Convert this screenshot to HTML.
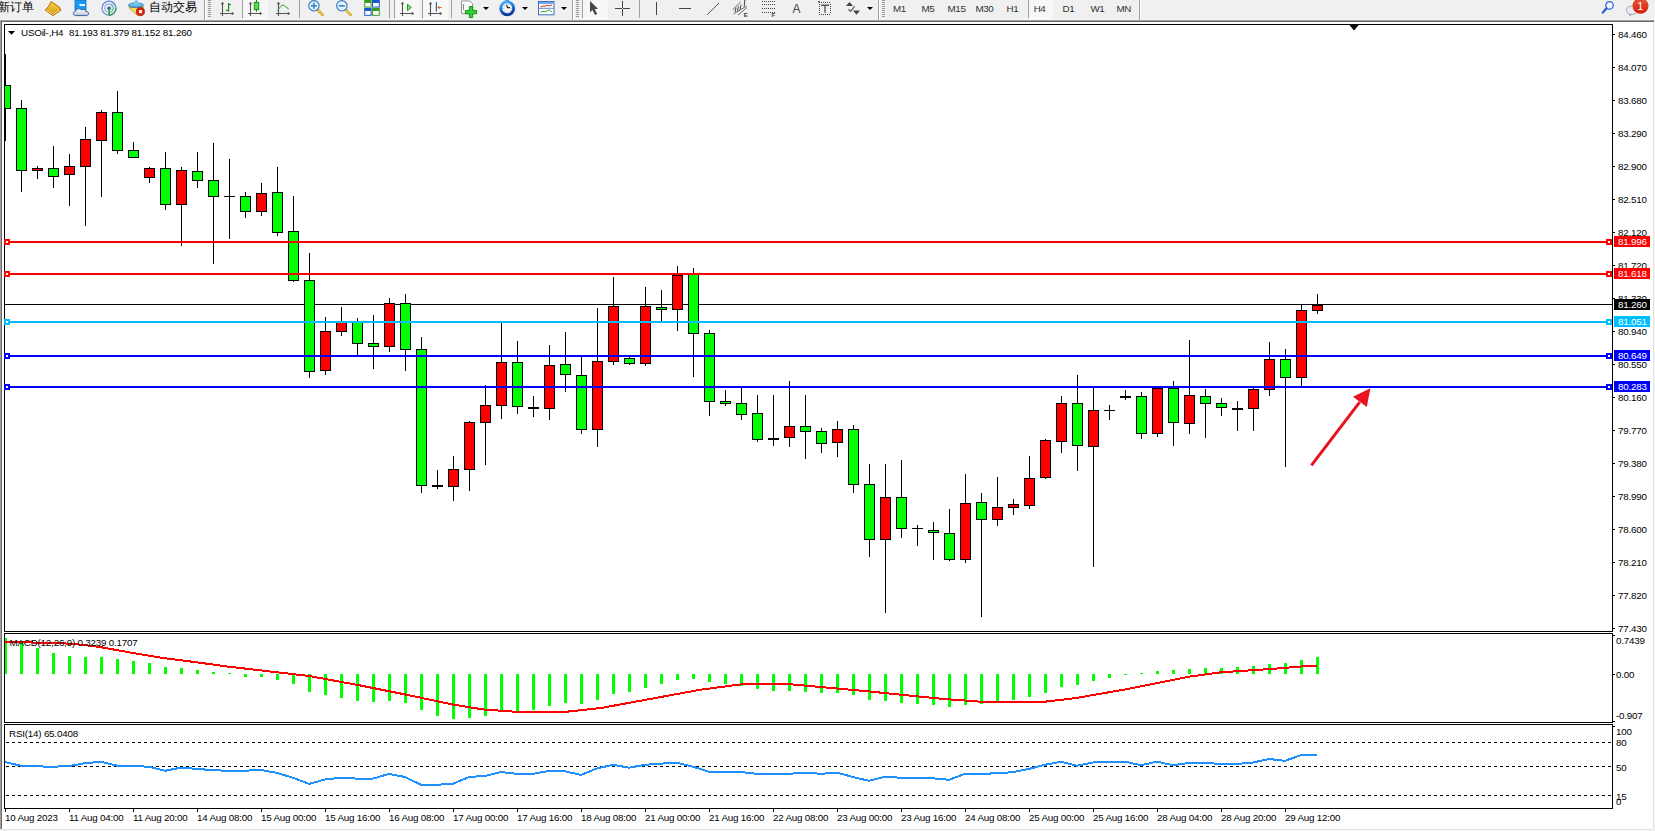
<!DOCTYPE html>
<html><head><meta charset="utf-8"><title>MT4 USOil H4</title>
<style>
html,body{margin:0;padding:0;background:#f0f0f0;overflow:hidden;}
svg{display:block;position:absolute;left:0;top:0;}
text{font-family:'Liberation Sans', Arial, sans-serif;white-space:pre;letter-spacing:-0.2px;}
</style></head><body>
<svg width="1655" height="831" viewBox="0 0 1655 831" shape-rendering="crispEdges">
<rect x="0" y="0" width="1655" height="20" fill="#f0f0f0"/>
<rect x="0" y="19" width="1655" height="1" fill="#f5f5f5"/>
<text x="-2.4" y="10.6" font-family="'Liberation Sans', 'Noto Sans CJK SC', 'WenQuanYi Zen Hei', sans-serif" font-size="11.6" fill="#000" style="letter-spacing:0">新订单</text>
<text x="149.3" y="10.6" font-family="'Liberation Sans', 'Noto Sans CJK SC', 'WenQuanYi Zen Hei', sans-serif" font-size="11.6" fill="#000" style="letter-spacing:0">自动交易</text>
<rect x="204" y="0" width="1" height="20" fill="#a0a0a0"/>
<rect x="205" y="0" width="1" height="20" fill="#ffffff"/>
<rect x="208" y="0" width="3" height="1" fill="#9a9a9a"/>
<rect x="208" y="2" width="3" height="1" fill="#9a9a9a"/>
<rect x="208" y="4" width="3" height="1" fill="#9a9a9a"/>
<rect x="208" y="6" width="3" height="1" fill="#9a9a9a"/>
<rect x="208" y="8" width="3" height="1" fill="#9a9a9a"/>
<rect x="208" y="10" width="3" height="1" fill="#9a9a9a"/>
<rect x="208" y="12" width="3" height="1" fill="#9a9a9a"/>
<rect x="208" y="14" width="3" height="1" fill="#9a9a9a"/>
<rect x="208" y="16" width="3" height="1" fill="#9a9a9a"/>
<rect x="242" y="0" width="1" height="18" fill="#a0a0a0"/>
<rect x="243" y="0" width="25" height="18" fill="#f7f7f7"/>
<rect x="243" y="18" width="25" height="1" fill="#ffffff"/>
<rect x="299" y="0" width="1" height="18" fill="#a0a0a0"/>
<rect x="389" y="0" width="1" height="18" fill="#a0a0a0"/>
<rect x="394" y="0" width="1" height="18" fill="#a0a0a0"/>
<rect x="395" y="0" width="25" height="18" fill="#f7f7f7"/>
<rect x="395" y="18" width="25" height="1" fill="#ffffff"/>
<rect x="422" y="0" width="1" height="18" fill="#a0a0a0"/>
<rect x="423" y="0" width="25" height="18" fill="#f7f7f7"/>
<rect x="423" y="18" width="25" height="1" fill="#ffffff"/>
<rect x="451" y="0" width="1" height="18" fill="#a0a0a0"/>
<polygon points="483,7 489,7 486,10" fill="#000" shape-rendering="auto"/>
<polygon points="522,7 528,7 525,10" fill="#000" shape-rendering="auto"/>
<polygon points="561,7 567,7 564,10" fill="#000" shape-rendering="auto"/>
<rect x="572" y="0" width="1" height="20" fill="#a0a0a0"/>
<rect x="573" y="0" width="1" height="20" fill="#ffffff"/>
<rect x="576" y="0" width="3" height="1" fill="#9a9a9a"/>
<rect x="576" y="2" width="3" height="1" fill="#9a9a9a"/>
<rect x="576" y="4" width="3" height="1" fill="#9a9a9a"/>
<rect x="576" y="6" width="3" height="1" fill="#9a9a9a"/>
<rect x="576" y="8" width="3" height="1" fill="#9a9a9a"/>
<rect x="576" y="10" width="3" height="1" fill="#9a9a9a"/>
<rect x="576" y="12" width="3" height="1" fill="#9a9a9a"/>
<rect x="576" y="14" width="3" height="1" fill="#9a9a9a"/>
<rect x="576" y="16" width="3" height="1" fill="#9a9a9a"/>
<rect x="582" y="0" width="1" height="18" fill="#a0a0a0"/>
<rect x="583" y="0" width="25" height="18" fill="#f7f7f7"/>
<rect x="583" y="18" width="25" height="1" fill="#ffffff"/>
<rect x="639" y="0" width="1" height="18" fill="#a0a0a0"/>
<polygon points="867,7 873,7 870,10" fill="#000" shape-rendering="auto"/>
<rect x="878" y="0" width="1" height="20" fill="#a0a0a0"/>
<rect x="879" y="0" width="1" height="20" fill="#ffffff"/>
<rect x="882" y="0" width="3" height="1" fill="#9a9a9a"/>
<rect x="882" y="2" width="3" height="1" fill="#9a9a9a"/>
<rect x="882" y="4" width="3" height="1" fill="#9a9a9a"/>
<rect x="882" y="6" width="3" height="1" fill="#9a9a9a"/>
<rect x="882" y="8" width="3" height="1" fill="#9a9a9a"/>
<rect x="882" y="10" width="3" height="1" fill="#9a9a9a"/>
<rect x="882" y="12" width="3" height="1" fill="#9a9a9a"/>
<rect x="882" y="14" width="3" height="1" fill="#9a9a9a"/>
<rect x="882" y="16" width="3" height="1" fill="#9a9a9a"/>
<rect x="1029" y="0" width="24" height="18" fill="#f7f7f7"/>
<rect x="1029" y="18" width="24" height="1" fill="#ffffff"/>
<rect x="1028" y="0" width="1" height="18" fill="#a0a0a0"/>
<rect x="1139" y="0" width="1" height="20" fill="#a0a0a0"/>
<rect x="1140" y="0" width="1" height="20" fill="#ffffff"/>
<text x="893" y="12" font-family="'Liberation Sans', Arial, sans-serif" font-size="9.8" fill="#333" style="letter-spacing:-0.4px">M1</text>
<text x="921.5" y="12" font-family="'Liberation Sans', Arial, sans-serif" font-size="9.8" fill="#333" style="letter-spacing:-0.4px">M5</text>
<text x="947.6" y="12" font-family="'Liberation Sans', Arial, sans-serif" font-size="9.8" fill="#333" style="letter-spacing:-0.4px">M15</text>
<text x="975.5" y="12" font-family="'Liberation Sans', Arial, sans-serif" font-size="9.8" fill="#333" style="letter-spacing:-0.4px">M30</text>
<text x="1006.6" y="12" font-family="'Liberation Sans', Arial, sans-serif" font-size="9.8" fill="#333" style="letter-spacing:-0.4px">H1</text>
<text x="1033.7" y="12" font-family="'Liberation Sans', Arial, sans-serif" font-size="9.8" fill="#333" style="letter-spacing:-0.4px">H4</text>
<text x="1062.5" y="12" font-family="'Liberation Sans', Arial, sans-serif" font-size="9.8" fill="#333" style="letter-spacing:-0.4px">D1</text>
<text x="1090.4" y="12" font-family="'Liberation Sans', Arial, sans-serif" font-size="9.8" fill="#333" style="letter-spacing:-0.4px">W1</text>
<text x="1116.4" y="12" font-family="'Liberation Sans', Arial, sans-serif" font-size="9.8" fill="#333" style="letter-spacing:-0.4px">MN</text>

<g shape-rendering="auto">
<defs>
<linearGradient id="gold" x1="0" y1="0" x2="0" y2="1"><stop offset="0" stop-color="#f8d440"/><stop offset="1" stop-color="#d49a18"/></linearGradient>
<linearGradient id="cloud" x1="0" y1="0" x2="0" y2="1"><stop offset="0" stop-color="#ffffff"/><stop offset="1" stop-color="#b8c4d8"/></linearGradient>
<linearGradient id="bdg" x1="0" y1="0" x2="0" y2="1"><stop offset="0" stop-color="#e85a3a"/><stop offset="1" stop-color="#d41e0a"/></linearGradient>
<linearGradient id="clk" x1="0" y1="0" x2="0.3" y2="1"><stop offset="0" stop-color="#5ab8ff"/><stop offset="0.5" stop-color="#1a78e0"/><stop offset="1" stop-color="#0a3a98"/></linearGradient>
<linearGradient id="hat" x1="0" y1="0" x2="0" y2="1"><stop offset="0" stop-color="#9ad4f0"/><stop offset="1" stop-color="#3aa0d8"/></linearGradient>
<pattern id="chk" width="2" height="2" patternUnits="userSpaceOnUse"><rect width="2" height="2" fill="#f4f4f4"/><rect width="1" height="1" fill="#fafafa"/><rect x="1" y="1" width="1" height="1" fill="#fafafa"/></pattern>
</defs>
<!-- gold book -->
<path d="M51.3,1.5 L59.5,7.2 L60.8,10.3 L52.8,15.6 L45.2,10 L48.5,6.5 Z" fill="url(#gold)" stroke="#a8680c" stroke-width="1"/>
<path d="M46.5,10.3 L52.8,14.3 L59.8,9.8" fill="none" stroke="#f6e6a0" stroke-width="0.8"/>
<!-- blue server + cloud -->
<rect x="75" y="0" width="11" height="10" fill="#1a9af0" stroke="#0a70d0" stroke-width="0.8"/>
<rect x="79.5" y="4" width="5.5" height="2" fill="#e8f6ff"/>
<path d="M75.5,15.6 C72.5,15.6 72.5,11.5 75.5,11.5 C76,8.3 80.5,8 81.5,10 C83,8.5 86,9.5 85.5,11.3 C89.5,11 89.5,15.6 86.5,15.6 Z" fill="url(#cloud)" stroke="#3f5f9c" stroke-width="1"/>
<!-- signal -->
<path d="M109,8.2 L109,15.6 A7.4,7.4 0 0 0 116.4,8.2 A7.4,7.4 0 0 0 112,1.4 Z" fill="#cfe8c8"/>
<circle cx="109" cy="8.2" r="7" fill="none" stroke="#5a84dc" stroke-width="1.2"/>
<circle cx="109" cy="8.2" r="4.2" fill="none" stroke="#7a9ee4" stroke-width="1.1"/>
<path d="M109,15.2 A7,7 0 0 0 116,8.2" fill="none" stroke="#3a9a48" stroke-width="1.2"/>
<circle cx="109" cy="8.2" r="1.7" fill="#2858c8"/>
<path d="M109.2,8.5 L109.2,15.6" stroke="#20a030" stroke-width="1.4"/>
<!-- auto trading wizard hat -->
<path d="M128.8,7.6 L137.6,15.6 L143.6,7.2 Z" fill="#f8e060" stroke="#c89a18" stroke-width="0.9"/>
<ellipse cx="136" cy="5.2" rx="7.6" ry="2.4" fill="url(#hat)" stroke="#2a7ab0" stroke-width="0.8"/>
<path d="M133.3,4.6 C134,1.5 135,0 136.3,0 C137.6,0 138.5,1.5 139.2,4.6 Z" fill="#7cc4ec"/>
<circle cx="140.4" cy="11.6" r="4.1" fill="#d42a10" stroke="#b01a0a" stroke-width="0.8"/>
<rect x="139" y="10.2" width="2.9" height="2.9" fill="#ffffff"/>
<!-- bar chart icon -->
<g stroke="#555" stroke-width="1.1" fill="none">
 <path d="M222.5,2.5 V16 M220,13.5 H233.5"/>
</g>
<path d="M222.5,1.8 L220.8,4.2 H224.2 Z M234.2,13.5 L231.8,11.8 V15.2 Z" fill="#555"/>
<path d="M228.6,3 V11.6 M228.6,4.5 H231 M226,10.3 H228.6" stroke="#108a10" stroke-width="1.2" fill="none"/>
<!-- candle chart icon -->
<path d="M250.5,2.5 V16 M248,13.5 H261.5" stroke="#555" stroke-width="1.1" fill="none"/>
<path d="M250.5,1.8 L248.8,4.2 H252.2 Z M262.2,13.5 L259.8,11.8 V15.2 Z" fill="#555"/>
<path d="M256.5,0 V11.8" stroke="#109010" stroke-width="1.2"/>
<rect x="254.3" y="2.4" width="4.4" height="7.2" fill="#50e050" stroke="#109010" stroke-width="0.9"/>
<!-- line chart icon -->
<path d="M278.5,2.5 V16 M276,13.5 H289.5" stroke="#555" stroke-width="1.1" fill="none"/>
<path d="M278.5,1.8 L276.8,4.2 H280.2 Z M290.2,13.5 L287.8,11.8 V15.2 Z" fill="#555"/>
<path d="M277.3,10.6 C280,7.5 281.5,5 283,5 C284.8,5 286.5,8.3 288.8,9" stroke="#2a9a2a" stroke-width="1" fill="none"/>
<!-- zoom in / out -->
<path d="M317.5,9.5 L322.6,14.8" stroke="#c89010" stroke-width="2.6" stroke-linecap="round"/>
<path d="M317.5,9.5 L322.6,14.8" stroke="#f0d860" stroke-width="1.2" stroke-linecap="round"/>
<circle cx="313.9" cy="5.8" r="5.2" fill="#dff2ff" stroke="#2f76c4" stroke-width="1.1"/>
<path d="M313.9,2.8 V8.8 M310.9,5.8 H316.9" stroke="#3a82b4" stroke-width="1.6"/>
<path d="M345.5,9.5 L350.6,14.8" stroke="#c89010" stroke-width="2.6" stroke-linecap="round"/>
<path d="M345.5,9.5 L350.6,14.8" stroke="#f0d860" stroke-width="1.2" stroke-linecap="round"/>
<circle cx="341.9" cy="5.8" r="5.2" fill="#dff2ff" stroke="#2f76c4" stroke-width="1.1"/>
<path d="M338.9,5.8 H344.9" stroke="#3a82b4" stroke-width="1.6"/>
<!-- tile windows -->
<rect x="364.2" y="0" width="7.4" height="7.6" fill="#3a9a20"/><rect x="365.2" y="3" width="5.4" height="3.6" fill="#fff"/>
<rect x="372" y="0" width="7.8" height="7.6" fill="#1a58d0"/><rect x="373" y="3" width="5.8" height="3.6" fill="#fff"/>
<rect x="364.2" y="8" width="7.4" height="7.8" fill="#1a58d0"/><rect x="365.2" y="11" width="5.4" height="3.8" fill="#fff"/>
<rect x="372" y="8" width="7.8" height="7.8" fill="#3a9a20"/><rect x="373" y="11" width="5.8" height="3.8" fill="#fff"/>
<!-- autoscroll -->
<path d="M402.5,2.5 V16 M400,13.5 H413.5" stroke="#555" stroke-width="1.1" fill="none"/>
<path d="M402.5,1.8 L400.8,4.2 H404.2 Z M414.2,13.5 L411.8,11.8 V15.2 Z" fill="#555"/>
<path d="M407.5,4.3 L411.3,7.4 L407.5,10.6 Z" fill="#80e080" stroke="#18a018" stroke-width="1"/>
<!-- chart shift -->
<path d="M430.5,2.5 V16 M428,13.5 H441.5" stroke="#555" stroke-width="1.1" fill="none"/>
<path d="M430.5,1.8 L428.8,4.2 H432.2 Z M442.2,13.5 L439.8,11.8 V15.2 Z" fill="#555"/>
<path d="M436.4,2 V11.6" stroke="#1a70b0" stroke-width="1.2"/>
<path d="M437.2,7.4 L440,5.4 L439.2,7 H442 V7.8 H439.2 L440,9.4 Z" fill="#e05010"/>
<!-- new chart -->
<path d="M461.5,1 H469.8 L472.6,3.8 V13.6 H461.5 Z" fill="#fff" stroke="#888" stroke-width="0.9"/>
<path d="M464.2,4 C463.3,4 463.3,5 463.3,7 C463.3,9 463.3,10 464.2,10" stroke="#444" stroke-width="0.8" fill="none"/>
<path d="M469.3,6.5 H472.7 V10.4 H476.6 V13.8 H472.7 V17.6 H469.3 V13.8 H465.4 V10.4 H469.3 Z" fill="#30d030" stroke="#128a12" stroke-width="0.9"/>
<!-- clock -->
<rect x="505.5" y="0" width="3.5" height="1.6" fill="#1a5fb8"/>
<circle cx="507.2" cy="8.3" r="6.5" fill="#f6f8fb" stroke="url(#clk)" stroke-width="2.9"/>
<path d="M506.6,4.6 L507.4,7.6 L510,7.6" stroke="#222" stroke-width="1.1" fill="none"/>
<g fill="#777"><rect x="503.4" y="8.2" width="0.8" height="0.8"/><rect x="510.6" y="8.2" width="0.8" height="0.8"/><rect x="507" y="11.6" width="1" height="0.6" fill="#5a9ae8"/><rect x="504.5" y="5.4" width="0.7" height="0.7"/><rect x="504.6" y="10.6" width="0.7" height="0.7"/><rect x="509.8" y="10.4" width="0.7" height="0.7"/></g>
<!-- templates -->
<rect x="538.5" y="1.5" width="15.5" height="13.3" fill="#fff" stroke="#3a6ec4" stroke-width="1"/>
<rect x="539" y="2" width="14.5" height="2" fill="#7aa8e8"/>
<path d="M539,8.3 H553.5" stroke="#3a6ec4" stroke-width="0.8"/>
<path d="M540.5,6.8 L543,6 L545,6.3 L547,5.2 L549.5,5.8 L552,5" stroke="#b02a10" stroke-width="0.9" fill="none"/>
<path d="M540.5,12 L543,11.4 L545,11.8 L547.5,10.6 L549.5,10 L552,12" stroke="#20a020" stroke-width="0.9" fill="none"/>
<!-- cursor -->
<path d="M590,1 V12.2 L592.4,10 L595,15 L597.2,14 L594.7,9.2 L598,8.7 Z" fill="#474747"/>
<!-- crosshair -->
<path d="M622.5,1 V8 M622.5,9 V16 M615,8.5 H622 M623,8.5 H630" stroke="#444" stroke-width="1"/>
<!-- line tools -->
<path d="M656.5,2 V15" stroke="#444" stroke-width="1"/>
<path d="M679,8.5 H691" stroke="#444" stroke-width="1"/>
<path d="M707.3,14.6 L719,3" stroke="#444" stroke-width="0.9"/>
<!-- fibo channel -->
<path d="M732.8,9.5 L740.6,2.2 M733.6,14 L746.5,6 M738,15 L747,7.5" stroke="#444" stroke-width="0.8" fill="none"/>
<path d="M735,12 L736,7.8 M737.5,11 L738.5,6.3 M740,9.5 L741,4.8 M744.2,6.6 L744.8,0" stroke="#444" stroke-width="1" fill="none"/>
<text x="743.8" y="17" font-size="6.2" font-weight="bold" fill="#444" font-family="Liberation Sans, sans-serif">E</text>
<!-- fibo lines -->
<g fill="#444">
<rect x="762" y="1" width="1" height="1"/><rect x="764" y="1" width="1" height="1"/><rect x="766" y="1" width="1" height="1"/><rect x="768" y="1" width="1" height="1"/><rect x="770" y="1" width="1" height="1"/><rect x="772" y="1" width="1" height="1"/><rect x="774" y="1" width="1" height="1"/><rect x="762" y="4" width="1" height="1"/><rect x="764" y="4" width="1" height="1"/><rect x="766" y="4" width="1" height="1"/><rect x="768" y="4" width="1" height="1"/><rect x="770" y="4" width="1" height="1"/><rect x="772" y="4" width="1" height="1"/><rect x="774" y="4" width="1" height="1"/><rect x="762" y="8" width="1" height="1"/><rect x="764" y="8" width="1" height="1"/><rect x="766" y="8" width="1" height="1"/><rect x="768" y="8" width="1" height="1"/><rect x="770" y="8" width="1" height="1"/><rect x="772" y="8" width="1" height="1"/><rect x="774" y="8" width="1" height="1"/><rect x="762" y="12" width="1" height="1"/><rect x="764" y="12" width="1" height="1"/><rect x="766" y="12" width="1" height="1"/><rect x="768" y="12" width="1" height="1"/><rect x="770" y="12" width="1" height="1"/><rect x="772" y="12" width="1" height="1"/><rect x="774" y="12" width="1" height="1"/>
</g>
<text x="771.5" y="17" font-size="6.2" font-weight="bold" fill="#444" font-family="Liberation Sans, sans-serif">F</text>
<!-- A -->
<text x="792.6" y="13" font-size="12" fill="#444" font-family="Liberation Sans, sans-serif">A</text>
<!-- T label -->
<g fill="#444">
<rect x="819" y="2" width="1" height="1"/><rect x="819" y="14" width="1" height="1"/><rect x="821" y="2" width="1" height="1"/><rect x="821" y="14" width="1" height="1"/><rect x="823" y="2" width="1" height="1"/><rect x="823" y="14" width="1" height="1"/><rect x="825" y="2" width="1" height="1"/><rect x="825" y="14" width="1" height="1"/><rect x="827" y="2" width="1" height="1"/><rect x="827" y="14" width="1" height="1"/><rect x="829" y="2" width="1" height="1"/><rect x="829" y="14" width="1" height="1"/><rect x="819" y="4" width="1" height="1"/><rect x="830" y="4" width="1" height="1"/><rect x="819" y="6" width="1" height="1"/><rect x="830" y="6" width="1" height="1"/><rect x="819" y="8" width="1" height="1"/><rect x="830" y="8" width="1" height="1"/><rect x="819" y="10" width="1" height="1"/><rect x="830" y="10" width="1" height="1"/><rect x="819" y="12" width="1" height="1"/><rect x="830" y="12" width="1" height="1"/>
</g>
<rect x="818" y="1" width="1.6" height="1.4" fill="#444"/>
<path d="M821,5.3 H829 M825,5.3 V12.8" stroke="#555" stroke-width="1.4"/>
<!-- arrows -->
<path d="M846,6 L849.5,2 L853,6 Z" fill="#444"/>
<path d="M853,10.6 L856.5,14.8 L860,10.6 Z" fill="#444"/>
<path d="M848.5,9.2 L850.5,11.5 L854.6,6.3" stroke="#444" stroke-width="1.1" fill="none"/>
<!-- search -->
<circle cx="1609.5" cy="5.4" r="3.7" fill="#f4f6ff" stroke="#2262d4" stroke-width="1.2"/>
<path d="M1606.6,8.3 L1602.8,12.6" stroke="#2262d4" stroke-width="2.2" stroke-linecap="round"/>
<!-- chat + badge -->
<ellipse cx="1632" cy="10.2" rx="5.6" ry="4.3" fill="#e8eaf2" stroke="#a0a0a8" stroke-width="0.9"/>
<path d="M1629,14 L1629.5,16.6 L1632,14.4 Z" fill="#a0a0a8"/>
<circle cx="1640.5" cy="5.8" r="8" fill="url(#bdg)"/>
<text x="1640.3" y="10" font-size="11" fill="#fff" text-anchor="middle" font-family="Liberation Serif, serif">1</text>
</g>

<rect x="0" y="20" width="1655" height="811" fill="#ffffff"/>
<rect x="0" y="20" width="1655" height="1" fill="#a0a0a0"/>
<rect x="0" y="21" width="1655" height="1" fill="#696969"/>
<rect x="0" y="20" width="1" height="811" fill="#a0a0a0"/>
<rect x="1" y="21" width="1" height="810" fill="#696969"/>
<rect x="1653" y="22" width="1" height="809" fill="#e3e3e3"/>
<rect x="1654" y="20" width="1" height="811" fill="#f4f4f4"/>
<rect x="2" y="829" width="1652" height="1" fill="#e3e3e3"/>
<rect x="0" y="830" width="1655" height="1" fill="#f4f4f4"/>
<rect x="0" y="829" width="2" height="2" fill="#f0f0f0"/>
<defs><clipPath id="cm"><rect x="5" y="25" width="1607" height="606"/></clipPath><clipPath id="cd"><rect x="5" y="634" width="1607" height="88"/></clipPath><clipPath id="cr"><rect x="5" y="725" width="1607" height="83"/></clipPath></defs>
<g clip-path="url(#cm)">
<rect x="5" y="304" width="1607" height="1" fill="#000"/>
<rect x="5" y="54" width="1" height="87" fill="#000"/>
<rect x="0" y="85" width="11" height="24" fill="#000"/>
<rect x="1" y="86" width="9" height="22" fill="#00ff00"/>
<rect x="21" y="100" width="1" height="92" fill="#000"/>
<rect x="16" y="108" width="11" height="63" fill="#000"/>
<rect x="17" y="109" width="9" height="61" fill="#00ff00"/>
<rect x="37" y="166" width="1" height="13" fill="#000"/>
<rect x="32" y="168" width="11" height="3" fill="#000"/>
<rect x="33" y="169" width="9" height="1" fill="#ff0000"/>
<rect x="53" y="146" width="1" height="42" fill="#000"/>
<rect x="48" y="168" width="11" height="9" fill="#000"/>
<rect x="49" y="169" width="9" height="7" fill="#00ff00"/>
<rect x="69" y="154" width="1" height="52" fill="#000"/>
<rect x="64" y="166" width="11" height="9" fill="#000"/>
<rect x="65" y="167" width="9" height="7" fill="#ff0000"/>
<rect x="85" y="127" width="1" height="99" fill="#000"/>
<rect x="80" y="139" width="11" height="28" fill="#000"/>
<rect x="81" y="140" width="9" height="26" fill="#ff0000"/>
<rect x="101" y="110" width="1" height="87" fill="#000"/>
<rect x="96" y="112" width="11" height="29" fill="#000"/>
<rect x="97" y="113" width="9" height="27" fill="#ff0000"/>
<rect x="117" y="91" width="1" height="63" fill="#000"/>
<rect x="112" y="112" width="11" height="39" fill="#000"/>
<rect x="113" y="113" width="9" height="37" fill="#00ff00"/>
<rect x="133" y="142" width="1" height="16" fill="#000"/>
<rect x="128" y="150" width="11" height="8" fill="#000"/>
<rect x="129" y="151" width="9" height="6" fill="#00ff00"/>
<rect x="149" y="167" width="1" height="16" fill="#000"/>
<rect x="144" y="168" width="11" height="10" fill="#000"/>
<rect x="145" y="169" width="9" height="8" fill="#ff0000"/>
<rect x="165" y="152" width="1" height="58" fill="#000"/>
<rect x="160" y="168" width="11" height="37" fill="#000"/>
<rect x="161" y="169" width="9" height="35" fill="#00ff00"/>
<rect x="181" y="167" width="1" height="79" fill="#000"/>
<rect x="176" y="170" width="11" height="35" fill="#000"/>
<rect x="177" y="171" width="9" height="33" fill="#ff0000"/>
<rect x="197" y="152" width="1" height="36" fill="#000"/>
<rect x="192" y="171" width="11" height="10" fill="#000"/>
<rect x="193" y="172" width="9" height="8" fill="#00ff00"/>
<rect x="213" y="143" width="1" height="121" fill="#000"/>
<rect x="208" y="180" width="11" height="17" fill="#000"/>
<rect x="209" y="181" width="9" height="15" fill="#00ff00"/>
<rect x="229" y="159" width="1" height="80" fill="#000"/>
<rect x="224" y="196" width="11" height="1" fill="#000"/>
<rect x="245" y="192" width="1" height="26" fill="#000"/>
<rect x="240" y="196" width="11" height="16" fill="#000"/>
<rect x="241" y="197" width="9" height="14" fill="#00ff00"/>
<rect x="261" y="183" width="1" height="33" fill="#000"/>
<rect x="256" y="193" width="11" height="19" fill="#000"/>
<rect x="257" y="194" width="9" height="17" fill="#ff0000"/>
<rect x="277" y="167" width="1" height="69" fill="#000"/>
<rect x="272" y="192" width="11" height="41" fill="#000"/>
<rect x="273" y="193" width="9" height="39" fill="#00ff00"/>
<rect x="293" y="196" width="1" height="86" fill="#000"/>
<rect x="288" y="231" width="11" height="50" fill="#000"/>
<rect x="289" y="232" width="9" height="48" fill="#00ff00"/>
<rect x="309" y="253" width="1" height="125" fill="#000"/>
<rect x="304" y="280" width="11" height="92" fill="#000"/>
<rect x="305" y="281" width="9" height="90" fill="#00ff00"/>
<rect x="325" y="317" width="1" height="58" fill="#000"/>
<rect x="320" y="331" width="11" height="40" fill="#000"/>
<rect x="321" y="332" width="9" height="38" fill="#ff0000"/>
<rect x="341" y="307" width="1" height="29" fill="#000"/>
<rect x="336" y="322" width="11" height="10" fill="#000"/>
<rect x="337" y="323" width="9" height="8" fill="#ff0000"/>
<rect x="357" y="318" width="1" height="37" fill="#000"/>
<rect x="352" y="322" width="11" height="22" fill="#000"/>
<rect x="353" y="323" width="9" height="20" fill="#00ff00"/>
<rect x="373" y="315" width="1" height="54" fill="#000"/>
<rect x="368" y="343" width="11" height="4" fill="#000"/>
<rect x="369" y="344" width="9" height="2" fill="#00ff00"/>
<rect x="389" y="298" width="1" height="54" fill="#000"/>
<rect x="384" y="303" width="11" height="44" fill="#000"/>
<rect x="385" y="304" width="9" height="42" fill="#ff0000"/>
<rect x="405" y="294" width="1" height="77" fill="#000"/>
<rect x="400" y="303" width="11" height="47" fill="#000"/>
<rect x="401" y="304" width="9" height="45" fill="#00ff00"/>
<rect x="421" y="337" width="1" height="156" fill="#000"/>
<rect x="416" y="349" width="11" height="137" fill="#000"/>
<rect x="417" y="350" width="9" height="135" fill="#00ff00"/>
<rect x="437" y="470" width="1" height="19" fill="#000"/>
<rect x="432" y="485" width="11" height="2" fill="#000"/>
<rect x="453" y="456" width="1" height="45" fill="#000"/>
<rect x="448" y="469" width="11" height="18" fill="#000"/>
<rect x="449" y="470" width="9" height="16" fill="#ff0000"/>
<rect x="469" y="421" width="1" height="70" fill="#000"/>
<rect x="464" y="422" width="11" height="48" fill="#000"/>
<rect x="465" y="423" width="9" height="46" fill="#ff0000"/>
<rect x="485" y="385" width="1" height="80" fill="#000"/>
<rect x="480" y="405" width="11" height="18" fill="#000"/>
<rect x="481" y="406" width="9" height="16" fill="#ff0000"/>
<rect x="501" y="323" width="1" height="96" fill="#000"/>
<rect x="496" y="362" width="11" height="44" fill="#000"/>
<rect x="497" y="363" width="9" height="42" fill="#ff0000"/>
<rect x="517" y="341" width="1" height="73" fill="#000"/>
<rect x="512" y="362" width="11" height="45" fill="#000"/>
<rect x="513" y="363" width="9" height="43" fill="#00ff00"/>
<rect x="533" y="396" width="1" height="21" fill="#000"/>
<rect x="528" y="407" width="11" height="2" fill="#000"/>
<rect x="549" y="345" width="1" height="75" fill="#000"/>
<rect x="544" y="365" width="11" height="44" fill="#000"/>
<rect x="545" y="366" width="9" height="42" fill="#ff0000"/>
<rect x="565" y="332" width="1" height="60" fill="#000"/>
<rect x="560" y="364" width="11" height="11" fill="#000"/>
<rect x="561" y="365" width="9" height="9" fill="#00ff00"/>
<rect x="581" y="357" width="1" height="77" fill="#000"/>
<rect x="576" y="375" width="11" height="55" fill="#000"/>
<rect x="577" y="376" width="9" height="53" fill="#00ff00"/>
<rect x="597" y="308" width="1" height="139" fill="#000"/>
<rect x="592" y="361" width="11" height="69" fill="#000"/>
<rect x="593" y="362" width="9" height="67" fill="#ff0000"/>
<rect x="613" y="277" width="1" height="88" fill="#000"/>
<rect x="608" y="306" width="11" height="56" fill="#000"/>
<rect x="609" y="307" width="9" height="54" fill="#ff0000"/>
<rect x="629" y="357" width="1" height="8" fill="#000"/>
<rect x="624" y="358" width="11" height="6" fill="#000"/>
<rect x="625" y="359" width="9" height="4" fill="#00ff00"/>
<rect x="645" y="287" width="1" height="79" fill="#000"/>
<rect x="640" y="306" width="11" height="58" fill="#000"/>
<rect x="641" y="307" width="9" height="56" fill="#ff0000"/>
<rect x="661" y="290" width="1" height="31" fill="#000"/>
<rect x="656" y="307" width="11" height="3" fill="#000"/>
<rect x="657" y="308" width="9" height="1" fill="#00ff00"/>
<rect x="677" y="266" width="1" height="65" fill="#000"/>
<rect x="672" y="275" width="11" height="35" fill="#000"/>
<rect x="673" y="276" width="9" height="33" fill="#ff0000"/>
<rect x="693" y="268" width="1" height="109" fill="#000"/>
<rect x="688" y="274" width="11" height="60" fill="#000"/>
<rect x="689" y="275" width="9" height="58" fill="#00ff00"/>
<rect x="709" y="330" width="1" height="86" fill="#000"/>
<rect x="704" y="333" width="11" height="69" fill="#000"/>
<rect x="705" y="334" width="9" height="67" fill="#00ff00"/>
<rect x="725" y="390" width="1" height="16" fill="#000"/>
<rect x="720" y="401" width="11" height="3" fill="#000"/>
<rect x="721" y="402" width="9" height="1" fill="#00ff00"/>
<rect x="741" y="388" width="1" height="32" fill="#000"/>
<rect x="736" y="403" width="11" height="12" fill="#000"/>
<rect x="737" y="404" width="9" height="10" fill="#00ff00"/>
<rect x="757" y="395" width="1" height="47" fill="#000"/>
<rect x="752" y="413" width="11" height="27" fill="#000"/>
<rect x="753" y="414" width="9" height="25" fill="#00ff00"/>
<rect x="773" y="395" width="1" height="51" fill="#000"/>
<rect x="768" y="438" width="11" height="2" fill="#000"/>
<rect x="789" y="381" width="1" height="66" fill="#000"/>
<rect x="784" y="426" width="11" height="12" fill="#000"/>
<rect x="785" y="427" width="9" height="10" fill="#ff0000"/>
<rect x="805" y="395" width="1" height="64" fill="#000"/>
<rect x="800" y="426" width="11" height="6" fill="#000"/>
<rect x="801" y="427" width="9" height="4" fill="#00ff00"/>
<rect x="821" y="428" width="1" height="25" fill="#000"/>
<rect x="816" y="431" width="11" height="13" fill="#000"/>
<rect x="817" y="432" width="9" height="11" fill="#00ff00"/>
<rect x="837" y="421" width="1" height="36" fill="#000"/>
<rect x="832" y="429" width="11" height="14" fill="#000"/>
<rect x="833" y="430" width="9" height="12" fill="#ff0000"/>
<rect x="853" y="425" width="1" height="68" fill="#000"/>
<rect x="848" y="429" width="11" height="56" fill="#000"/>
<rect x="849" y="430" width="9" height="54" fill="#00ff00"/>
<rect x="869" y="464" width="1" height="93" fill="#000"/>
<rect x="864" y="484" width="11" height="56" fill="#000"/>
<rect x="865" y="485" width="9" height="54" fill="#00ff00"/>
<rect x="885" y="464" width="1" height="149" fill="#000"/>
<rect x="880" y="497" width="11" height="43" fill="#000"/>
<rect x="881" y="498" width="9" height="41" fill="#ff0000"/>
<rect x="901" y="460" width="1" height="78" fill="#000"/>
<rect x="896" y="497" width="11" height="32" fill="#000"/>
<rect x="897" y="498" width="9" height="30" fill="#00ff00"/>
<rect x="917" y="525" width="1" height="21" fill="#000"/>
<rect x="912" y="528" width="11" height="1" fill="#000"/>
<rect x="933" y="522" width="1" height="38" fill="#000"/>
<rect x="928" y="530" width="11" height="3" fill="#000"/>
<rect x="929" y="531" width="9" height="1" fill="#00ff00"/>
<rect x="949" y="509" width="1" height="52" fill="#000"/>
<rect x="944" y="533" width="11" height="27" fill="#000"/>
<rect x="945" y="534" width="9" height="25" fill="#00ff00"/>
<rect x="965" y="474" width="1" height="89" fill="#000"/>
<rect x="960" y="503" width="11" height="57" fill="#000"/>
<rect x="961" y="504" width="9" height="55" fill="#ff0000"/>
<rect x="981" y="493" width="1" height="124" fill="#000"/>
<rect x="976" y="502" width="11" height="18" fill="#000"/>
<rect x="977" y="503" width="9" height="16" fill="#00ff00"/>
<rect x="997" y="477" width="1" height="49" fill="#000"/>
<rect x="992" y="507" width="11" height="13" fill="#000"/>
<rect x="993" y="508" width="9" height="11" fill="#ff0000"/>
<rect x="1013" y="499" width="1" height="16" fill="#000"/>
<rect x="1008" y="504" width="11" height="4" fill="#000"/>
<rect x="1009" y="505" width="9" height="2" fill="#ff0000"/>
<rect x="1029" y="456" width="1" height="53" fill="#000"/>
<rect x="1024" y="478" width="11" height="28" fill="#000"/>
<rect x="1025" y="479" width="9" height="26" fill="#ff0000"/>
<rect x="1045" y="439" width="1" height="40" fill="#000"/>
<rect x="1040" y="440" width="11" height="38" fill="#000"/>
<rect x="1041" y="441" width="9" height="36" fill="#ff0000"/>
<rect x="1061" y="396" width="1" height="57" fill="#000"/>
<rect x="1056" y="403" width="11" height="39" fill="#000"/>
<rect x="1057" y="404" width="9" height="37" fill="#ff0000"/>
<rect x="1077" y="375" width="1" height="96" fill="#000"/>
<rect x="1072" y="403" width="11" height="43" fill="#000"/>
<rect x="1073" y="404" width="9" height="41" fill="#00ff00"/>
<rect x="1093" y="387" width="1" height="180" fill="#000"/>
<rect x="1088" y="410" width="11" height="37" fill="#000"/>
<rect x="1089" y="411" width="9" height="35" fill="#ff0000"/>
<rect x="1109" y="405" width="1" height="15" fill="#000"/>
<rect x="1104" y="410" width="11" height="1" fill="#000"/>
<rect x="1125" y="390" width="1" height="10" fill="#000"/>
<rect x="1120" y="396" width="11" height="2" fill="#000"/>
<rect x="1141" y="392" width="1" height="47" fill="#000"/>
<rect x="1136" y="396" width="11" height="38" fill="#000"/>
<rect x="1137" y="397" width="9" height="36" fill="#00ff00"/>
<rect x="1157" y="388" width="1" height="49" fill="#000"/>
<rect x="1152" y="388" width="11" height="46" fill="#000"/>
<rect x="1153" y="389" width="9" height="44" fill="#ff0000"/>
<rect x="1173" y="381" width="1" height="65" fill="#000"/>
<rect x="1168" y="388" width="11" height="35" fill="#000"/>
<rect x="1169" y="389" width="9" height="33" fill="#00ff00"/>
<rect x="1189" y="340" width="1" height="94" fill="#000"/>
<rect x="1184" y="395" width="11" height="29" fill="#000"/>
<rect x="1185" y="396" width="9" height="27" fill="#ff0000"/>
<rect x="1205" y="389" width="1" height="49" fill="#000"/>
<rect x="1200" y="396" width="11" height="8" fill="#000"/>
<rect x="1201" y="397" width="9" height="6" fill="#00ff00"/>
<rect x="1221" y="398" width="1" height="18" fill="#000"/>
<rect x="1216" y="403" width="11" height="5" fill="#000"/>
<rect x="1217" y="404" width="9" height="3" fill="#00ff00"/>
<rect x="1237" y="401" width="1" height="30" fill="#000"/>
<rect x="1232" y="408" width="11" height="2" fill="#000"/>
<rect x="1253" y="388" width="1" height="43" fill="#000"/>
<rect x="1248" y="389" width="11" height="20" fill="#000"/>
<rect x="1249" y="390" width="9" height="18" fill="#ff0000"/>
<rect x="1269" y="342" width="1" height="54" fill="#000"/>
<rect x="1264" y="359" width="11" height="31" fill="#000"/>
<rect x="1265" y="360" width="9" height="29" fill="#ff0000"/>
<rect x="1285" y="349" width="1" height="118" fill="#000"/>
<rect x="1280" y="359" width="11" height="19" fill="#000"/>
<rect x="1281" y="360" width="9" height="17" fill="#00ff00"/>
<rect x="1301" y="304" width="1" height="82" fill="#000"/>
<rect x="1296" y="310" width="11" height="68" fill="#000"/>
<rect x="1297" y="311" width="9" height="66" fill="#ff0000"/>
<rect x="1317" y="294" width="1" height="20" fill="#000"/>
<rect x="1312" y="305" width="11" height="6" fill="#000"/>
<rect x="1313" y="306" width="9" height="4" fill="#ff0000"/>
<rect x="5" y="241" width="1607" height="2" fill="#ff0000"/>
<rect x="5" y="273" width="1607" height="2" fill="#ff0000"/>
<rect x="5" y="321" width="1607" height="2" fill="#00bfff"/>
<rect x="5" y="355" width="1607" height="2" fill="#0000ff"/>
<rect x="5" y="386" width="1607" height="2" fill="#0000ff"/>
<line x1="1311.4" y1="465.3" x2="1359.7" y2="402.2" stroke="#e8131f" stroke-width="3" shape-rendering="auto"/>
<polygon points="1370.4,388.2 1353,396.7 1366.8,406.9" fill="#e8131f" shape-rendering="auto"/>
</g>
<polygon points="1348.5,24 1359.5,24 1354,30.5" fill="#000" shape-rendering="auto"/>
<rect x="4" y="24" width="1609" height="1" fill="#000"/>
<rect x="4" y="631" width="1609" height="1" fill="#000"/>
<rect x="4" y="24" width="1" height="608" fill="#000"/>
<rect x="1612" y="24" width="1" height="608" fill="#000"/>
<rect x="4" y="633" width="1609" height="1" fill="#000"/>
<rect x="4" y="722" width="1609" height="1" fill="#000"/>
<rect x="4" y="633" width="1" height="90" fill="#000"/>
<rect x="1612" y="633" width="1" height="90" fill="#000"/>
<rect x="4" y="724" width="1609" height="1" fill="#000"/>
<rect x="4" y="808" width="1609" height="1" fill="#000"/>
<rect x="4" y="724" width="1" height="85" fill="#000"/>
<rect x="1612" y="724" width="1" height="85" fill="#000"/>
<rect x="4" y="239" width="6" height="6" fill="#ff0000"/>
<rect x="6" y="241" width="2" height="2" fill="#fff"/>
<rect x="1606" y="239" width="6" height="6" fill="#ff0000"/>
<rect x="1608" y="241" width="2" height="2" fill="#fff"/>
<rect x="4" y="271" width="6" height="6" fill="#ff0000"/>
<rect x="6" y="273" width="2" height="2" fill="#fff"/>
<rect x="1606" y="271" width="6" height="6" fill="#ff0000"/>
<rect x="1608" y="273" width="2" height="2" fill="#fff"/>
<rect x="4" y="319" width="6" height="6" fill="#00bfff"/>
<rect x="6" y="321" width="2" height="2" fill="#fff"/>
<rect x="1606" y="319" width="6" height="6" fill="#00bfff"/>
<rect x="1608" y="321" width="2" height="2" fill="#fff"/>
<rect x="4" y="353" width="6" height="6" fill="#0000ff"/>
<rect x="6" y="355" width="2" height="2" fill="#fff"/>
<rect x="1606" y="353" width="6" height="6" fill="#0000ff"/>
<rect x="1608" y="355" width="2" height="2" fill="#fff"/>
<rect x="4" y="384" width="6" height="6" fill="#0000ff"/>
<rect x="6" y="386" width="2" height="2" fill="#fff"/>
<rect x="1606" y="384" width="6" height="6" fill="#0000ff"/>
<rect x="1608" y="386" width="2" height="2" fill="#fff"/>
<polygon points="8,31 15,31 11.5,34.8" fill="#000" shape-rendering="auto"/>
<text x="21" y="36" fill="#000" font-size="9.8">USOil-,H4</text>
<text x="69" y="36" fill="#000" font-size="9.8">81.193 81.379 81.152 81.260</text>
<rect x="1613" y="34" width="2" height="1" fill="#000"/>
<text x="1618" y="38" fill="#000" font-size="9.8">84.460</text>
<rect x="1613" y="67" width="2" height="1" fill="#000"/>
<text x="1618" y="71" fill="#000" font-size="9.8">84.070</text>
<rect x="1613" y="100" width="2" height="1" fill="#000"/>
<text x="1618" y="104" fill="#000" font-size="9.8">83.680</text>
<rect x="1613" y="133" width="2" height="1" fill="#000"/>
<text x="1618" y="137" fill="#000" font-size="9.8">83.290</text>
<rect x="1613" y="166" width="2" height="1" fill="#000"/>
<text x="1618" y="170" fill="#000" font-size="9.8">82.900</text>
<rect x="1613" y="199" width="2" height="1" fill="#000"/>
<text x="1618" y="203" fill="#000" font-size="9.8">82.510</text>
<rect x="1613" y="232" width="2" height="1" fill="#000"/>
<text x="1618" y="236" fill="#000" font-size="9.8">82.120</text>
<rect x="1613" y="265" width="2" height="1" fill="#000"/>
<text x="1618" y="269" fill="#000" font-size="9.8">81.720</text>
<rect x="1613" y="298" width="2" height="1" fill="#000"/>
<text x="1618" y="302" fill="#000" font-size="9.8">81.330</text>
<rect x="1613" y="331" width="2" height="1" fill="#000"/>
<text x="1618" y="335" fill="#000" font-size="9.8">80.940</text>
<rect x="1613" y="364" width="2" height="1" fill="#000"/>
<text x="1618" y="368" fill="#000" font-size="9.8">80.550</text>
<rect x="1613" y="397" width="2" height="1" fill="#000"/>
<text x="1618" y="401" fill="#000" font-size="9.8">80.160</text>
<rect x="1613" y="430" width="2" height="1" fill="#000"/>
<text x="1618" y="434" fill="#000" font-size="9.8">79.770</text>
<rect x="1613" y="463" width="2" height="1" fill="#000"/>
<text x="1618" y="467" fill="#000" font-size="9.8">79.380</text>
<rect x="1613" y="496" width="2" height="1" fill="#000"/>
<text x="1618" y="500" fill="#000" font-size="9.8">78.990</text>
<rect x="1613" y="529" width="2" height="1" fill="#000"/>
<text x="1618" y="533" fill="#000" font-size="9.8">78.600</text>
<rect x="1613" y="562" width="2" height="1" fill="#000"/>
<text x="1618" y="566" fill="#000" font-size="9.8">78.210</text>
<rect x="1613" y="595" width="2" height="1" fill="#000"/>
<text x="1618" y="599" fill="#000" font-size="9.8">77.820</text>
<rect x="1613" y="628" width="2" height="1" fill="#000"/>
<text x="1618" y="632" fill="#000" font-size="9.8">77.430</text>
<rect x="1614" y="236" width="36" height="11" fill="#ff0000"/>
<text x="1618" y="245" fill="#fff" font-size="9.8">81.996</text>
<rect x="1614" y="268" width="36" height="11" fill="#ff0000"/>
<text x="1618" y="277" fill="#fff" font-size="9.8">81.618</text>
<rect x="1614" y="299" width="36" height="11" fill="#000000"/>
<text x="1618" y="308" fill="#fff" font-size="9.8">81.260</text>
<rect x="1614" y="316" width="36" height="11" fill="#00bfff"/>
<text x="1618" y="325" fill="#fff" font-size="9.8">81.051</text>
<rect x="1614" y="350" width="36" height="11" fill="#0000ff"/>
<text x="1618" y="359" fill="#fff" font-size="9.8">80.649</text>
<rect x="1614" y="381" width="36" height="11" fill="#0000ff"/>
<text x="1618" y="390" fill="#fff" font-size="9.8">80.283</text>
<g clip-path="url(#cd)">
<rect x="4" y="638" width="3" height="36" fill="#00ff00"/>
<rect x="20" y="643" width="3" height="31" fill="#00ff00"/>
<rect x="36" y="648" width="3" height="26" fill="#00ff00"/>
<rect x="52" y="653" width="3" height="21" fill="#00ff00"/>
<rect x="68" y="656" width="3" height="18" fill="#00ff00"/>
<rect x="84" y="657" width="3" height="17" fill="#00ff00"/>
<rect x="100" y="657" width="3" height="17" fill="#00ff00"/>
<rect x="116" y="659" width="3" height="15" fill="#00ff00"/>
<rect x="132" y="661" width="3" height="13" fill="#00ff00"/>
<rect x="148" y="663" width="3" height="11" fill="#00ff00"/>
<rect x="164" y="667" width="3" height="7" fill="#00ff00"/>
<rect x="180" y="668" width="3" height="6" fill="#00ff00"/>
<rect x="196" y="670" width="3" height="4" fill="#00ff00"/>
<rect x="212" y="672" width="3" height="2" fill="#00ff00"/>
<rect x="228" y="673" width="3" height="1" fill="#00ff00"/>
<rect x="244" y="674" width="3" height="3" fill="#00ff00"/>
<rect x="260" y="674" width="3" height="3" fill="#00ff00"/>
<rect x="276" y="674" width="3" height="6" fill="#00ff00"/>
<rect x="292" y="674" width="3" height="10" fill="#00ff00"/>
<rect x="308" y="674" width="3" height="18" fill="#00ff00"/>
<rect x="324" y="674" width="3" height="21" fill="#00ff00"/>
<rect x="340" y="674" width="3" height="24" fill="#00ff00"/>
<rect x="356" y="674" width="3" height="27" fill="#00ff00"/>
<rect x="372" y="674" width="3" height="28" fill="#00ff00"/>
<rect x="388" y="674" width="3" height="27" fill="#00ff00"/>
<rect x="404" y="674" width="3" height="29" fill="#00ff00"/>
<rect x="420" y="674" width="3" height="36" fill="#00ff00"/>
<rect x="436" y="674" width="3" height="42" fill="#00ff00"/>
<rect x="452" y="674" width="3" height="45" fill="#00ff00"/>
<rect x="468" y="674" width="3" height="44" fill="#00ff00"/>
<rect x="484" y="674" width="3" height="42" fill="#00ff00"/>
<rect x="500" y="674" width="3" height="38" fill="#00ff00"/>
<rect x="516" y="674" width="3" height="38" fill="#00ff00"/>
<rect x="532" y="674" width="3" height="36" fill="#00ff00"/>
<rect x="548" y="674" width="3" height="32" fill="#00ff00"/>
<rect x="564" y="674" width="3" height="29" fill="#00ff00"/>
<rect x="580" y="674" width="3" height="30" fill="#00ff00"/>
<rect x="596" y="674" width="3" height="26" fill="#00ff00"/>
<rect x="612" y="674" width="3" height="20" fill="#00ff00"/>
<rect x="628" y="674" width="3" height="18" fill="#00ff00"/>
<rect x="644" y="674" width="3" height="14" fill="#00ff00"/>
<rect x="660" y="674" width="3" height="10" fill="#00ff00"/>
<rect x="676" y="674" width="3" height="6" fill="#00ff00"/>
<rect x="692" y="674" width="3" height="5" fill="#00ff00"/>
<rect x="708" y="674" width="3" height="8" fill="#00ff00"/>
<rect x="724" y="674" width="3" height="10" fill="#00ff00"/>
<rect x="740" y="674" width="3" height="12" fill="#00ff00"/>
<rect x="756" y="674" width="3" height="15" fill="#00ff00"/>
<rect x="772" y="674" width="3" height="17" fill="#00ff00"/>
<rect x="788" y="674" width="3" height="17" fill="#00ff00"/>
<rect x="804" y="674" width="3" height="18" fill="#00ff00"/>
<rect x="820" y="674" width="3" height="19" fill="#00ff00"/>
<rect x="836" y="674" width="3" height="19" fill="#00ff00"/>
<rect x="852" y="674" width="3" height="21" fill="#00ff00"/>
<rect x="868" y="674" width="3" height="26" fill="#00ff00"/>
<rect x="884" y="674" width="3" height="27" fill="#00ff00"/>
<rect x="900" y="674" width="3" height="29" fill="#00ff00"/>
<rect x="916" y="674" width="3" height="30" fill="#00ff00"/>
<rect x="932" y="674" width="3" height="31" fill="#00ff00"/>
<rect x="948" y="674" width="3" height="33" fill="#00ff00"/>
<rect x="964" y="674" width="3" height="31" fill="#00ff00"/>
<rect x="980" y="674" width="3" height="30" fill="#00ff00"/>
<rect x="996" y="674" width="3" height="27" fill="#00ff00"/>
<rect x="1012" y="674" width="3" height="26" fill="#00ff00"/>
<rect x="1028" y="674" width="3" height="23" fill="#00ff00"/>
<rect x="1044" y="674" width="3" height="19" fill="#00ff00"/>
<rect x="1060" y="674" width="3" height="13" fill="#00ff00"/>
<rect x="1076" y="674" width="3" height="11" fill="#00ff00"/>
<rect x="1092" y="674" width="3" height="7" fill="#00ff00"/>
<rect x="1108" y="674" width="3" height="4" fill="#00ff00"/>
<rect x="1124" y="674" width="3" height="1" fill="#00ff00"/>
<rect x="1140" y="673" width="3" height="1" fill="#00ff00"/>
<rect x="1156" y="671" width="3" height="3" fill="#00ff00"/>
<rect x="1172" y="670" width="3" height="4" fill="#00ff00"/>
<rect x="1188" y="669" width="3" height="5" fill="#00ff00"/>
<rect x="1204" y="668" width="3" height="6" fill="#00ff00"/>
<rect x="1220" y="668" width="3" height="6" fill="#00ff00"/>
<rect x="1236" y="667" width="3" height="7" fill="#00ff00"/>
<rect x="1252" y="666" width="3" height="8" fill="#00ff00"/>
<rect x="1268" y="664" width="3" height="10" fill="#00ff00"/>
<rect x="1284" y="663" width="3" height="11" fill="#00ff00"/>
<rect x="1300" y="660" width="3" height="14" fill="#00ff00"/>
<rect x="1316" y="657" width="3" height="17" fill="#00ff00"/>
<polyline points="5,641.8 37,642.6 72,643.7 98,646.7 134,653.2 163,658 196,662.2 228,666.6 260,670.3 309,676 358,685 407,694.8 453,704.6 485,709.7 501,710.7 517,711.9 565,711.9 601.6,707.9 650.5,698.9 699.4,689.9 741.9,684.2 790,684.2 861.6,690.7 943,698.9 982,701.8 1044,701.8 1075,698.2 1127.6,689 1189,676.7 1221,672.3 1269.5,669.1 1301,666.5 1317,665.8" fill="none" stroke="#ff0000" stroke-width="2" shape-rendering="crispEdges"/>
</g>
<text x="9.5" y="646" fill="#000" font-size="9.8">MACD(12,26,9) 0.3239 0.1707</text>
<rect x="1613" y="635" width="2" height="1" fill="#000"/>
<text x="1616" y="644" fill="#000" font-size="9.8">0.7439</text>
<rect x="1613" y="674" width="2" height="1" fill="#000"/>
<text x="1616" y="678" fill="#000" font-size="9.8">0.00</text>
<rect x="1613" y="721" width="2" height="1" fill="#000"/>
<text x="1616" y="719" fill="#000" font-size="9.8">-0.907</text>
<g clip-path="url(#cr)">
<line x1="0" y1="742.5" x2="1612" y2="742.5" stroke="#000" stroke-width="1" stroke-dasharray="3 3"/>
<line x1="0" y1="766.5" x2="1612" y2="766.5" stroke="#000" stroke-width="1" stroke-dasharray="3 3"/>
<line x1="0" y1="795.5" x2="1612" y2="795.5" stroke="#000" stroke-width="1" stroke-dasharray="3 3"/>
<polyline points="5,762 21,765.8 37,766.4 53,766.7 69,766.1 85,763.2 101,761.8 117,765.6 133,766.1 149,766.7 165,770.8 181,767.6 197,768.9 213,770.2 229,770.8 245,770.7 261,770 277,772.9 293,777.8 309,783.9 325,779.5 341,777.8 357,778.6 373,778.6 389,773.9 405,777 421,784.8 437,784.8 453,783.7 469,777 485,775.9 501,772.1 517,773.8 533,773.8 549,771 565,771.3 581,774.9 597,768.4 613,764.8 629,767.7 645,764.8 661,763.6 677,762.8 693,766.7 709,771.8 725,771.8 741,772.1 757,773.8 773,773.8 789,773.8 805,772.6 821,773.8 837,772.6 853,777 869,780.8 885,776.7 901,777.8 917,777.8 933,778.3 949,779.8 965,773.8 981,773.8 997,773.3 1013,772.1 1029,768.9 1045,764.8 1061,761.7 1077,765.7 1093,762.5 1109,761.7 1125,761.7 1141,765.2 1157,761.7 1173,765.2 1189,762.9 1205,762.9 1221,764 1237,764 1253,762.5 1269,759 1285,760.8 1301,755.2 1317,755" fill="none" stroke="#1e90ff" stroke-width="2" shape-rendering="crispEdges"/>
</g>
<text x="9" y="737" fill="#000" font-size="9.8">RSI(14) 65.0408</text>
<rect x="1613" y="726" width="2" height="1" fill="#000"/>
<text x="1616" y="735" fill="#000" font-size="9.8">100</text>
<text x="1616" y="746" fill="#000" font-size="9.8">80</text>
<text x="1616" y="771" fill="#000" font-size="9.8">50</text>
<text x="1616" y="800" fill="#000" font-size="9.8">15</text>
<text x="1616" y="805" fill="#000" font-size="9.8">0</text>
<rect x="5" y="809" width="1" height="3" fill="#000"/>
<text x="5" y="821" fill="#000" font-size="9.8">10 Aug 2023</text>
<rect x="69" y="809" width="1" height="3" fill="#000"/>
<text x="69" y="821" fill="#000" font-size="9.8">11 Aug 04:00</text>
<rect x="133" y="809" width="1" height="3" fill="#000"/>
<text x="133" y="821" fill="#000" font-size="9.8">11 Aug 20:00</text>
<rect x="197" y="809" width="1" height="3" fill="#000"/>
<text x="197" y="821" fill="#000" font-size="9.8">14 Aug 08:00</text>
<rect x="261" y="809" width="1" height="3" fill="#000"/>
<text x="261" y="821" fill="#000" font-size="9.8">15 Aug 00:00</text>
<rect x="325" y="809" width="1" height="3" fill="#000"/>
<text x="325" y="821" fill="#000" font-size="9.8">15 Aug 16:00</text>
<rect x="389" y="809" width="1" height="3" fill="#000"/>
<text x="389" y="821" fill="#000" font-size="9.8">16 Aug 08:00</text>
<rect x="453" y="809" width="1" height="3" fill="#000"/>
<text x="453" y="821" fill="#000" font-size="9.8">17 Aug 00:00</text>
<rect x="517" y="809" width="1" height="3" fill="#000"/>
<text x="517" y="821" fill="#000" font-size="9.8">17 Aug 16:00</text>
<rect x="581" y="809" width="1" height="3" fill="#000"/>
<text x="581" y="821" fill="#000" font-size="9.8">18 Aug 08:00</text>
<rect x="645" y="809" width="1" height="3" fill="#000"/>
<text x="645" y="821" fill="#000" font-size="9.8">21 Aug 00:00</text>
<rect x="709" y="809" width="1" height="3" fill="#000"/>
<text x="709" y="821" fill="#000" font-size="9.8">21 Aug 16:00</text>
<rect x="773" y="809" width="1" height="3" fill="#000"/>
<text x="773" y="821" fill="#000" font-size="9.8">22 Aug 08:00</text>
<rect x="837" y="809" width="1" height="3" fill="#000"/>
<text x="837" y="821" fill="#000" font-size="9.8">23 Aug 00:00</text>
<rect x="901" y="809" width="1" height="3" fill="#000"/>
<text x="901" y="821" fill="#000" font-size="9.8">23 Aug 16:00</text>
<rect x="965" y="809" width="1" height="3" fill="#000"/>
<text x="965" y="821" fill="#000" font-size="9.8">24 Aug 08:00</text>
<rect x="1029" y="809" width="1" height="3" fill="#000"/>
<text x="1029" y="821" fill="#000" font-size="9.8">25 Aug 00:00</text>
<rect x="1093" y="809" width="1" height="3" fill="#000"/>
<text x="1093" y="821" fill="#000" font-size="9.8">25 Aug 16:00</text>
<rect x="1157" y="809" width="1" height="3" fill="#000"/>
<text x="1157" y="821" fill="#000" font-size="9.8">28 Aug 04:00</text>
<rect x="1221" y="809" width="1" height="3" fill="#000"/>
<text x="1221" y="821" fill="#000" font-size="9.8">28 Aug 20:00</text>
<rect x="1285" y="809" width="1" height="3" fill="#000"/>
<text x="1285" y="821" fill="#000" font-size="9.8">29 Aug 12:00</text>
</svg>
</body></html>
